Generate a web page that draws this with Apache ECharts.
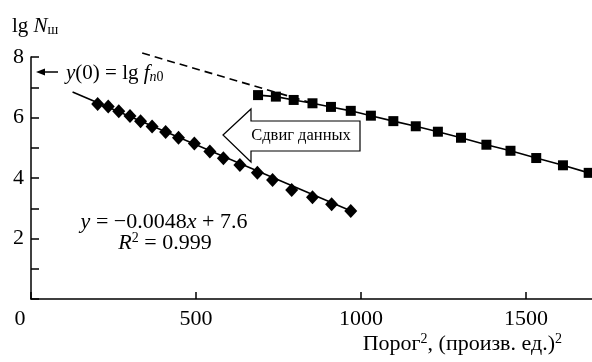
<!DOCTYPE html>
<html>
<head>
<meta charset="utf-8">
<script src="https://cdn.jsdelivr.net/npm/echarts@6/dist/echarts.min.js"></script>
<style>
  html, body { margin: 0; padding: 0; background: #fff; }
  #chart { width: 592px; height: 362px; }
</style>
</head>
<body>
<div id="chart"></div>
<script>
// сдвинутые данные (ромбы)
const diamondX = [202, 234, 266, 300, 332, 367, 408, 447, 495, 542, 583, 633, 686, 732, 790, 853, 911, 969]
const diamondY = [6.45, 6.36, 6.21, 6.05, 5.88, 5.70, 5.52, 5.33, 5.14, 4.88, 4.65, 4.43, 4.17, 3.93, 3.60, 3.36, 3.13, 2.91]
// исходные данные (квадраты)
const squareX = [688, 742, 796, 853, 909, 969, 1030, 1098, 1166, 1233, 1303, 1380, 1453, 1531, 1612, 1690]
const squareY = [6.74, 6.69, 6.58, 6.47, 6.35, 6.22, 6.06, 5.88, 5.71, 5.53, 5.33, 5.10, 4.90, 4.66, 4.42, 4.17]
// линия регрессии и пунктирная экстраполяция
const fitX = [126, 972]
const fitY = [6.84, 2.90]
const extrapX = [337, 855]
const extrapY = [8.13, 6.47]
const xTickLabels = [0, 500, 1000, 1500]
const yTickLabels = [2, 4, 6, 8]

const zip = (xs, ys) => xs.map((x, i) => [x, ys[i]])
const serif = 'Liberation Serif'

let myChart = echarts.init(document.getElementById('chart'))
let option = {
  animation: false,
  backgroundColor: '#fff',
  textStyle: { fontFamily: serif, color: '#000' },
  grid: { left: 31, right: -1, top: 57, bottom: 63 },
  xAxis: {
    type: 'value',
    min: 0,
    max: 1700,
    interval: 500,
    axisLine: { lineStyle: { color: '#000', width: 1.5 } },
    axisTick: { inside: true, length: 7, lineStyle: { color: '#000', width: 1.5 } },
    splitLine: { show: false },
    axisLabel: {
      margin: 9,
      color: '#000',
      fontFamily: serif,
      fontSize: 22,
      showMaxLabel: false,
      formatter: function (v) {
        if (xTickLabels.indexOf(v) < 0) return ''
        return v === 0 ? '{z|0}' : String(v)
      },
      rich: { z: { fontFamily: serif, fontSize: 22, color: '#000', padding: [0, 22, 0, 0] } }
    }
  },
  yAxis: {
    type: 'value',
    min: 0,
    max: 8,
    interval: 1,
    axisLine: { lineStyle: { color: '#000', width: 1.5 } },
    axisTick: { inside: true, length: 8, lineStyle: { color: '#000', width: 1.5 } },
    splitLine: { show: false },
    axisLabel: {
      margin: 7,
      color: '#000',
      fontFamily: serif,
      fontSize: 22,
      formatter: function (v) {
        return yTickLabels.indexOf(v) >= 0 ? String(v) : ''
      }
    }
  },
  series: [
    {
      name: 'экстраполяция',
      type: 'line',
      data: zip(extrapX, extrapY),
      symbol: 'none',
      clip: false,
      lineStyle: { color: '#000', width: 1.6, type: [8, 5] },
      z: 1
    },
    {
      name: 'регрессия',
      type: 'line',
      data: zip(fitX, fitY),
      symbol: 'none',
      lineStyle: { color: '#000', width: 1.6 },
      z: 2
    },
    {
      name: 'сдвиг',
      type: 'scatter',
      data: zip(diamondX, diamondY),
      symbol: 'diamond',
      symbolSize: [13, 14],
      itemStyle: { color: '#000', opacity: 1 },
      z: 3
    },
    {
      name: 'исходные',
      type: 'line',
      data: zip(squareX, squareY),
      symbol: 'rect',
      symbolSize: 10,
      showAllSymbol: true,
      itemStyle: { color: '#000', opacity: 1 },
      lineStyle: { color: '#000', width: 1.6 },
      z: 3
    }
  ],
  graphic: [
    {
      // подпись оси Y
      type: 'text',
      left: 12,
      top: 16,
      style: {
        text: '{n|lg }{i|N}{s|ш}',
        rich: {
          n: { fontFamily: serif, fontSize: 21, fill: '#000' },
          i: { fontFamily: serif, fontSize: 21, fontStyle: 'italic', fill: '#000' },
          s: { fontFamily: serif, fontSize: 14, fill: '#000', verticalAlign: 'bottom', padding: [8, 0, 0, 0] }
        }
      }
    },
    {
      // подпись оси X
      type: 'text',
      right: 30,
      top: 332,
      style: {
        text: '{n|Порог}{s|2}{n|, (произв. ед.)}{s|2}',
        rich: {
          n: { fontFamily: serif, fontSize: 22, fill: '#000' },
          s: { fontFamily: serif, fontSize: 14, fill: '#000', verticalAlign: 'top', padding: [0, 0, 10, 0] }
        }
      }
    },
    {
      type: 'line',
      shape: { x1: 58, y1: 72, x2: 42, y2: 72 },
      style: { stroke: '#000', lineWidth: 1.5 }
    },
    {
      type: 'polygon',
      shape: { points: [[36, 72], [45, 68.5], [45, 75.5]] },
      style: { fill: '#000' }
    },
    {
      type: 'text',
      left: 66,
      top: 63,
      style: {
        text: '{i|y}{n|(0) = lg }{i|f}{si|n}{s|0}',
        rich: {
          n: { fontFamily: serif, fontSize: 21, fill: '#000' },
          i: { fontFamily: serif, fontSize: 21, fontStyle: 'italic', fill: '#000' },
          si: { fontFamily: serif, fontSize: 14, fontStyle: 'italic', fill: '#000', verticalAlign: 'bottom', padding: [7, 0, 0, 0] },
          s: { fontFamily: serif, fontSize: 14, fill: '#000', verticalAlign: 'bottom', padding: [7, 0, 0, 0] }
        }
      }
    },
    {
      // стрелка «Сдвиг данных»
      type: 'polygon',
      shape: { points: [[223, 135], [251, 109], [251, 121], [360, 121], [360, 151], [251, 151], [251, 162]] },
      style: { fill: '#fff', stroke: '#000', lineWidth: 1.2 }
    },
    {
      type: 'text',
      x: 301,
      y: 136,
      style: {
        text: 'Сдвиг данных',
        fontFamily: serif,
        fontSize: 16.5,
        fill: '#000',
        align: 'center',
        verticalAlign: 'middle'
      }
    },
    {
      type: 'text',
      x: 164,
      y: 222,
      style: {
        text: '{i|y}{n| = −0.0048}{i|x}{n| + 7.6}',
        align: 'center',
        verticalAlign: 'middle',
        rich: {
          n: { fontFamily: serif, fontSize: 22, fill: '#000' },
          i: { fontFamily: serif, fontSize: 22, fontStyle: 'italic', fill: '#000' }
        }
      }
    },
    {
      type: 'text',
      x: 165,
      y: 243,
      style: {
        text: '{i|R}{s|2}{n| = 0.999}',
        align: 'center',
        verticalAlign: 'middle',
        rich: {
          n: { fontFamily: serif, fontSize: 22, fill: '#000' },
          i: { fontFamily: serif, fontSize: 22, fontStyle: 'italic', fill: '#000' },
          s: { fontFamily: serif, fontSize: 14, fill: '#000', verticalAlign: 'top', padding: [0, 0, 10, 0] }
        }
      }
    }
  ]
}
myChart.setOption(option, true)
</script>
</body>
</html>
